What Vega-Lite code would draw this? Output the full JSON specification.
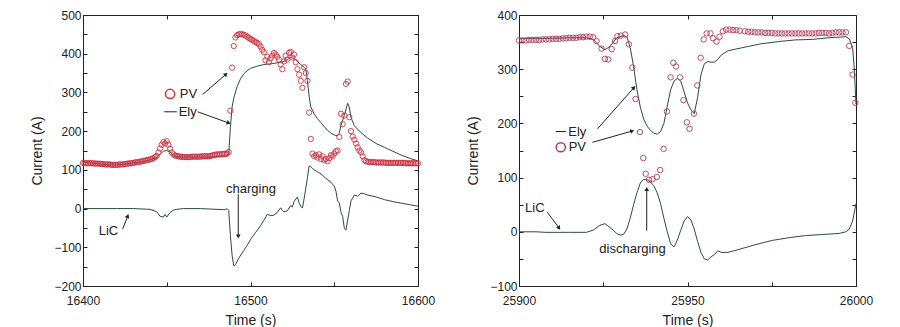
{
"$schema": "https://vega.github.io/schema/vega-lite/v6.json",
"background": "white",
"padding": {"left": 30, "top": 8, "right": 5, "bottom": 5},
"spacing": 101,
"bounds": "flush",
"config": {
  "view": {"stroke": "#222", "strokeWidth": 1},
  "axis": {"labelFont": "Liberation Sans", "labelFontSize": 12, "labelColor": "#222", "titleFont": "Liberation Sans", "titleFontSize": 14, "titleFontWeight": "normal", "titleColor": "#222", "tickColor": "#222", "tickSize": -4, "domain": false, "grid": false, "labelFlush": false, "labelPadding": 6, "labelOverlap": false},
  "axisX": {"labelPadding": 13}
},
"datasets": {
  "pv1": [
{"t":16400,"v":118},{"t":16401,"v":118},{"t":16402,"v":117},{"t":16403,"v":117},{"t":16404,"v":118},{"t":16405,"v":117},{"t":16406,"v":117},{"t":16407,"v":116},{"t":16408,"v":116},{"t":16409,"v":116},{"t":16410,"v":116},{"t":16411,"v":115},{"t":16412,"v":115},{"t":16413,"v":114},{"t":16414,"v":114},{"t":16415,"v":114},{"t":16416,"v":114},{"t":16417,"v":113},{"t":16418,"v":113},{"t":16419,"v":113},{"t":16420,"v":113},{"t":16421,"v":113},{"t":16422,"v":114},{"t":16423,"v":114},{"t":16424,"v":114},{"t":16425,"v":115},{"t":16426,"v":116},{"t":16427,"v":116},{"t":16428,"v":117},{"t":16429,"v":117},{"t":16430,"v":118},{"t":16431,"v":119},{"t":16432,"v":120},{"t":16433,"v":120},{"t":16434,"v":121},{"t":16435,"v":122},{"t":16436,"v":123},{"t":16437,"v":124},{"t":16438,"v":125},{"t":16439,"v":126},{"t":16440,"v":127},{"t":16441,"v":128},{"t":16442,"v":130},{"t":16443,"v":133},{"t":16444,"v":136},{"t":16445,"v":145},{"t":16446,"v":155},{"t":16447,"v":165},{"t":16448,"v":172},{"t":16449,"v":168},{"t":16450,"v":174},{"t":16451,"v":165},{"t":16452,"v":155},{"t":16453,"v":145},{"t":16454,"v":140},{"t":16455,"v":137},{"t":16456,"v":136},{"t":16457,"v":135},{"t":16458,"v":134},{"t":16459,"v":134},{"t":16460,"v":133},{"t":16461,"v":133},{"t":16462,"v":133},{"t":16463,"v":133},{"t":16464,"v":133},{"t":16465,"v":134},{"t":16466,"v":134},{"t":16467,"v":134},{"t":16468,"v":134},{"t":16469,"v":134},{"t":16470,"v":134},{"t":16471,"v":135},{"t":16472,"v":135},{"t":16473,"v":135},{"t":16474,"v":135},{"t":16475,"v":135},{"t":16476,"v":136},{"t":16477,"v":137},{"t":16478,"v":138},{"t":16479,"v":139},{"t":16480,"v":140},{"t":16481,"v":140},{"t":16482,"v":140},{"t":16483,"v":141},{"t":16484,"v":141},{"t":16485,"v":142},{"t":16486,"v":142},{"t":16487,"v":146},{"t":16488,"v":253},{"t":16489,"v":364},{"t":16490,"v":420},{"t":16491,"v":442},{"t":16492,"v":448},{"t":16493,"v":450},{"t":16494,"v":451},{"t":16495,"v":450},{"t":16496,"v":449},{"t":16497,"v":447},{"t":16498,"v":444},{"t":16499,"v":441},{"t":16500,"v":438},{"t":16501,"v":436},{"t":16502,"v":433},{"t":16503,"v":430},{"t":16504,"v":428},{"t":16505,"v":425},{"t":16506,"v":418},{"t":16507,"v":410},{"t":16508,"v":404},{"t":16509,"v":383},{"t":16510,"v":392},{"t":16511,"v":378},{"t":16512,"v":388},{"t":16513,"v":395},{"t":16514,"v":402},{"t":16515,"v":398},{"t":16516,"v":392},{"t":16517,"v":385},{"t":16518,"v":372},{"t":16519,"v":360},{"t":16520,"v":380},{"t":16521,"v":395},{"t":16522,"v":385},{"t":16523,"v":402},{"t":16524,"v":405},{"t":16525,"v":390},{"t":16526,"v":398},{"t":16527,"v":378},{"t":16528,"v":360},{"t":16529,"v":346},{"t":16530,"v":330},{"t":16531,"v":312},{"t":16532,"v":365},{"t":16533,"v":350},{"t":16534,"v":330},{"t":16535,"v":248},{"t":16536,"v":180},{"t":16537,"v":142},{"t":16538,"v":135},{"t":16539,"v":138},{"t":16540,"v":132},{"t":16541,"v":140},{"t":16542,"v":128},{"t":16543,"v":135},{"t":16544,"v":125},{"t":16545,"v":128},{"t":16546,"v":122},{"t":16547,"v":130},{"t":16548,"v":138},{"t":16549,"v":135},{"t":16550,"v":142},{"t":16551,"v":148},{"t":16552,"v":150},{"t":16553,"v":185},{"t":16554,"v":245},{"t":16555,"v":218},{"t":16556,"v":240},{"t":16557,"v":322},{"t":16558,"v":328},{"t":16559,"v":236},{"t":16560,"v":200},{"t":16561,"v":186},{"t":16562,"v":178},{"t":16563,"v":168},{"t":16564,"v":158},{"t":16565,"v":150},{"t":16566,"v":145},{"t":16567,"v":135},{"t":16568,"v":125},{"t":16569,"v":122},{"t":16570,"v":121},{"t":16571,"v":120},{"t":16572,"v":120},{"t":16573,"v":120},{"t":16574,"v":120},{"t":16575,"v":119},{"t":16576,"v":119},{"t":16577,"v":119},{"t":16578,"v":119},{"t":16579,"v":119},{"t":16580,"v":119},{"t":16581,"v":118},{"t":16582,"v":118},{"t":16583,"v":118},{"t":16584,"v":118},{"t":16585,"v":118},{"t":16586,"v":118},{"t":16587,"v":118},{"t":16588,"v":118},{"t":16589,"v":118},{"t":16590,"v":118},{"t":16591,"v":118},{"t":16592,"v":118},{"t":16593,"v":117},{"t":16594,"v":117},{"t":16595,"v":117},{"t":16596,"v":117},{"t":16597,"v":117},{"t":16598,"v":117},{"t":16599,"v":117},{"t":16600,"v":117}
  ],
  "ely1": [
{"t":16400,"v":120},{"t":16405,"v":118},{"t":16410,"v":115},{"t":16415,"v":113},{"t":16420,"v":113},{"t":16425,"v":115},{"t":16430,"v":118},{"t":16435,"v":121},{"t":16440,"v":126},{"t":16444,"v":132},{"t":16446,"v":140},{"t":16448,"v":148},{"t":16450,"v":150},{"t":16452,"v":146},{"t":16454,"v":138},{"t":16456,"v":134},{"t":16460,"v":133},{"t":16470,"v":133},{"t":16480,"v":134},{"t":16486,"v":135},{"t":16487,"v":140},{"t":16488,"v":210},{"t":16489,"v":262},{"t":16490,"v":285},{"t":16492,"v":315},{"t":16494,"v":335},{"t":16496,"v":348},{"t":16498,"v":356},{"t":16500,"v":362},{"t":16504,"v":368},{"t":16508,"v":372},{"t":16514,"v":375},{"t":16518,"v":378},{"t":16520,"v":380},{"t":16522,"v":385},{"t":16524,"v":390},{"t":16526,"v":388},{"t":16528,"v":380},{"t":16530,"v":372},{"t":16532,"v":365},{"t":16533,"v":360},{"t":16534,"v":330},{"t":16535,"v":290},{"t":16536,"v":262},{"t":16538,"v":245},{"t":16540,"v":232},{"t":16542,"v":222},{"t":16544,"v":212},{"t":16546,"v":202},{"t":16548,"v":195},{"t":16550,"v":190},{"t":16552,"v":188},{"t":16553,"v":195},{"t":16554,"v":215},{"t":16556,"v":240},{"t":16558,"v":272},{"t":16559,"v":262},{"t":16560,"v":235},{"t":16562,"v":214},{"t":16565,"v":200},{"t":16570,"v":182},{"t":16575,"v":168},{"t":16580,"v":158},{"t":16585,"v":148},{"t":16590,"v":138},{"t":16595,"v":130},{"t":16600,"v":123}
  ],
  "lic1": [
{"t":16400,"v":0},{"t":16420,"v":0},{"t":16430,"v":0},{"t":16440,"v":-2},{"t":16444,"v":-8},{"t":16446,"v":-20},{"t":16448,"v":-22},{"t":16449,"v":-15},{"t":16450,"v":-22},{"t":16452,"v":-10},{"t":16454,"v":-4},{"t":16456,"v":-2},{"t":16460,"v":0},{"t":16470,"v":0},{"t":16480,"v":-2},{"t":16485,"v":-3},{"t":16486,"v":0},{"t":16487,"v":-5},{"t":16488,"v":-70},{"t":16489,"v":-120},{"t":16490,"v":-148},{"t":16491,"v":-145},{"t":16493,"v":-128},{"t":16496,"v":-108},{"t":16498,"v":-95},{"t":16500,"v":-80},{"t":16503,"v":-62},{"t":16506,"v":-44},{"t":16508,"v":-30},{"t":16510,"v":-15},{"t":16512,"v":-18},{"t":16514,"v":-17},{"t":16516,"v":-10},{"t":16518,"v":2},{"t":16519,"v":-5},{"t":16520,"v":-8},{"t":16522,"v":-6},{"t":16524,"v":8},{"t":16525,"v":4},{"t":16526,"v":18},{"t":16528,"v":30},{"t":16529,"v":15},{"t":16530,"v":5},{"t":16531,"v":2},{"t":16532,"v":25},{"t":16534,"v":80},{"t":16535,"v":110},{"t":16536,"v":108},{"t":16538,"v":100},{"t":16540,"v":95},{"t":16542,"v":90},{"t":16544,"v":82},{"t":16546,"v":75},{"t":16548,"v":68},{"t":16550,"v":58},{"t":16551,"v":45},{"t":16552,"v":20},{"t":16553,"v":15},{"t":16554,"v":-10},{"t":16555,"v":-20},{"t":16556,"v":-50},{"t":16557,"v":-55},{"t":16558,"v":-30},{"t":16559,"v":-5},{"t":16560,"v":20},{"t":16562,"v":35},{"t":16564,"v":32},{"t":16566,"v":40},{"t":16568,"v":38},{"t":16570,"v":35},{"t":16575,"v":30},{"t":16580,"v":23},{"t":16585,"v":18},{"t":16590,"v":14},{"t":16595,"v":10},{"t":16600,"v":6}
  ],
  "pv2": [
{"t":25900,"v":353},{"t":25901,"v":353},{"t":25902,"v":353},{"t":25903,"v":354},{"t":25904,"v":354},{"t":25905,"v":354},{"t":25906,"v":354},{"t":25907,"v":355},{"t":25908,"v":355},{"t":25909,"v":355},{"t":25910,"v":356},{"t":25911,"v":356},{"t":25912,"v":356},{"t":25913,"v":357},{"t":25914,"v":357},{"t":25915,"v":358},{"t":25916,"v":358},{"t":25917,"v":358},{"t":25918,"v":359},{"t":25919,"v":359},{"t":25920,"v":360},{"t":25921,"v":360},{"t":25922,"v":359},{"t":25923,"v":352},{"t":25924.5,"v":338},{"t":25925.5,"v":319},{"t":25926.5,"v":318},{"t":25927.5,"v":337},{"t":25928.5,"v":352},{"t":25929.2,"v":361},{"t":25930.2,"v":362},{"t":25931.5,"v":364},{"t":25932.6,"v":346},{"t":25933.6,"v":303},{"t":25934.6,"v":245},{"t":25935.9,"v":184},{"t":25936.9,"v":136},{"t":25937.6,"v":107},{"t":25938.6,"v":96},{"t":25939.6,"v":97},{"t":25940.9,"v":101},{"t":25941.9,"v":114},{"t":25942.9,"v":153},{"t":25943.9,"v":222},{"t":25945,"v":285},{"t":25945.8,"v":312},{"t":25946.6,"v":305},{"t":25947.8,"v":285},{"t":25948.8,"v":243},{"t":25949.8,"v":202},{"t":25950.6,"v":190},{"t":25951.9,"v":218},{"t":25952.9,"v":270},{"t":25953.9,"v":321},{"t":25954.8,"v":355},{"t":25955.7,"v":366},{"t":25956.8,"v":366},{"t":25957.6,"v":357},{"t":25958.6,"v":351},{"t":25959.5,"v":360},{"t":25960.5,"v":370},{"t":25961.5,"v":373},{"t":25962.5,"v":373},{"t":25963.5,"v":372},{"t":25964.5,"v":372},{"t":25965.5,"v":371},{"t":25967,"v":370},{"t":25968,"v":369},{"t":25969,"v":369},{"t":25970,"v":368},{"t":25971,"v":368},{"t":25972,"v":368},{"t":25973,"v":367},{"t":25974,"v":367},{"t":25975,"v":367},{"t":25976,"v":366},{"t":25977,"v":366},{"t":25978,"v":366},{"t":25979,"v":366},{"t":25980,"v":366},{"t":25981,"v":366},{"t":25982,"v":366},{"t":25983,"v":366},{"t":25984,"v":366},{"t":25985,"v":366},{"t":25986,"v":366},{"t":25987,"v":366},{"t":25988,"v":366},{"t":25989,"v":367},{"t":25990,"v":367},{"t":25991,"v":367},{"t":25992,"v":366},{"t":25993,"v":367},{"t":25994,"v":368},{"t":25995,"v":368},{"t":25996,"v":368},{"t":25997,"v":368},{"t":25998,"v":343},{"t":25999,"v":290},{"t":25999.8,"v":238}
  ],
  "ely2": [
{"t":25900,"v":357},{"t":25905,"v":357},{"t":25910,"v":357},{"t":25915,"v":358},{"t":25920,"v":358},{"t":25922,"v":355},{"t":25924,"v":342},{"t":25925.5,"v":336},{"t":25927,"v":342},{"t":25929,"v":358},{"t":25931,"v":362},{"t":25932,"v":360},{"t":25933,"v":340},{"t":25934,"v":305},{"t":25935,"v":262},{"t":25936,"v":230},{"t":25937,"v":208},{"t":25938,"v":195},{"t":25939,"v":187},{"t":25940,"v":182},{"t":25941,"v":180},{"t":25942,"v":185},{"t":25943,"v":200},{"t":25944,"v":232},{"t":25945,"v":262},{"t":25946,"v":278},{"t":25947,"v":283},{"t":25948,"v":278},{"t":25949,"v":258},{"t":25950,"v":238},{"t":25951,"v":225},{"t":25952,"v":218},{"t":25953,"v":248},{"t":25954,"v":290},{"t":25955,"v":310},{"t":25956,"v":314},{"t":25957,"v":313},{"t":25958,"v":313},{"t":25959,"v":318},{"t":25960,"v":326},{"t":25962,"v":334},{"t":25965,"v":338},{"t":25968,"v":342},{"t":25972,"v":347},{"t":25977,"v":351},{"t":25982,"v":354},{"t":25987,"v":355},{"t":25992,"v":358},{"t":25997,"v":360},{"t":25998,"v":356},{"t":25999,"v":340},{"t":25999.5,"v":300},{"t":26000,"v":235}
  ],
  "lic2": [
{"t":25900,"v":0},{"t":25905,"v":0},{"t":25908,"v":-1},{"t":25915,"v":-1},{"t":25920,"v":-1},{"t":25922,"v":3},{"t":25924,"v":12},{"t":25925.5,"v":15},{"t":25927,"v":8},{"t":25929,"v":-3},{"t":25930,"v":-6},{"t":25931,"v":-5},{"t":25932,"v":5},{"t":25933,"v":25},{"t":25934,"v":50},{"t":25935,"v":72},{"t":25936,"v":90},{"t":25937,"v":97},{"t":25938,"v":96},{"t":25939,"v":92},{"t":25940,"v":85},{"t":25941,"v":72},{"t":25942,"v":52},{"t":25943,"v":25},{"t":25944,"v":0},{"t":25945,"v":-22},{"t":25946,"v":-28},{"t":25947,"v":-15},{"t":25948,"v":3},{"t":25949,"v":20},{"t":25950,"v":28},{"t":25951,"v":22},{"t":25952,"v":5},{"t":25953,"v":-18},{"t":25954,"v":-38},{"t":25955,"v":-50},{"t":25956,"v":-52},{"t":25957,"v":-46},{"t":25958,"v":-42},{"t":25959,"v":-35},{"t":25960,"v":-38},{"t":25962,"v":-38},{"t":25965,"v":-33},{"t":25970,"v":-24},{"t":25975,"v":-16},{"t":25980,"v":-11},{"t":25985,"v":-7},{"t":25990,"v":-5},{"t":25995,"v":-3},{"t":25997,"v":0},{"t":25998,"v":5},{"t":25999,"v":20},{"t":26000,"v":52}
  ],
  "txt1": [{"t":16463,"v":295,"label":"PV"},{"t":16462.5,"v":250,"label":"Ely"},{"t":16500.3,"v":50,"label":"charging"},{"t":16415.2,"v":-57,"label":"LiC"}],
  "arr1": [{"t":16471.5,"v":295,"t2":16485.4,"v2":347},{"t":16468.5,"v":250,"t2":16487,"v2":221},{"t":16492.7,"v":37,"t2":16492.7,"v2":-72},{"t":16423.7,"v":-53,"t2":16426.7,"v2":-19}],
  "txt2": [{"t":25917.3,"v":184,"label":"Ely"},{"t":25917.3,"v":156,"label":"PV"},{"t":25933.7,"v":-31,"label":"discharging"},{"t":25904.7,"v":44,"label":"LiC"}],
  "arr2": [{"t":25923.3,"v":190,"t2":25934.1,"v2":266},{"t":25921.8,"v":165,"t2":25933.6,"v2":186},{"t":25937.9,"v":2,"t2":25937.9,"v2":79},{"t":25908.4,"v":36,"t2":25911.9,"v2":7}]
},
"hconcat": [
  {
    "width": 335, "height": 271,
    "layer": [
      {"data": {"name": "ely1"}, "mark": {"type": "line", "color": "#2e4a3e", "strokeWidth": 1},
       "encoding": {
         "x": {"field": "t", "type": "quantitative", "scale": {"domain": [16400, 16600], "nice": false, "zero": false}, "title": "Time (s)",
               "axis": {"orient": "bottom", "values": [16400,16450,16500,16550,16600], "labelExpr": "datum.value % 100 == 0 ? format(datum.value, 'd') : ''", "titlePadding": 7}},
         "y": {"field": "v", "type": "quantitative", "scale": {"domain": [-200, 500], "nice": false, "zero": false}, "title": "Current (A)",
               "axis": {"orient": "left", "values": [-200,-150,-100,-50,0,50,100,150,200,250,300,350,400,450,500], "labelExpr": "datum.value % 100 == 0 ? datum.label : ''", "titlePadding": 9}}
       }},
      {"data": {"name": "lic1"}, "mark": {"type": "line", "color": "#2e4a3e", "strokeWidth": 1},
       "encoding": {
         "x": {"field": "t", "type": "quantitative", "axis": {"orient": "top", "values": [16400,16450,16500,16550,16600], "labels": false, "title": null}},
         "y": {"field": "v", "type": "quantitative", "axis": {"orient": "right", "values": [-200,-150,-100,-50,0,50,100,150,200,250,300,350,400,450,500], "labels": false, "title": null}}
       }},
      {"data": {"name": "pv1"}, "mark": {"type": "point", "shape": "circle", "filled": false, "size": 28, "stroke": "#cc3344", "strokeWidth": 1, "opacity": 0.9},
       "encoding": {"x": {"field": "t", "type": "quantitative", "axis": null}, "y": {"field": "v", "type": "quantitative", "axis": null}}},
      {"data": {"name": "arr1"}, "mark": {"type": "rule", "color": "#222", "strokeWidth": 1},
       "encoding": {"x": {"field": "t", "type": "quantitative", "axis": null}, "y": {"field": "v", "type": "quantitative", "axis": null}, "x2": {"field": "t2"}, "y2": {"field": "v2"}}},
      {"data": {"values": [{"t": 16485.4, "v": 347}]}, "mark": {"type": "point", "shape": "triangle-up", "filled": true, "size": 22, "color": "#222", "opacity": 1, "angle": 49},
       "encoding": {"x": {"field": "t", "type": "quantitative", "axis": null}, "y": {"field": "v", "type": "quantitative", "axis": null}}},
      {"data": {"values": [{"t": 16487, "v": 221}]}, "mark": {"type": "point", "shape": "triangle-up", "filled": true, "size": 22, "color": "#222", "opacity": 1, "angle": 110},
       "encoding": {"x": {"field": "t", "type": "quantitative", "axis": null}, "y": {"field": "v", "type": "quantitative", "axis": null}}},
      {"data": {"values": [{"t": 16492.7, "v": -72}]}, "mark": {"type": "point", "shape": "triangle-up", "filled": true, "size": 22, "color": "#222", "opacity": 1, "angle": 180},
       "encoding": {"x": {"field": "t", "type": "quantitative", "axis": null}, "y": {"field": "v", "type": "quantitative", "axis": null}}},
      {"data": {"values": [{"t": 16426.7, "v": -19}]}, "mark": {"type": "point", "shape": "triangle-up", "filled": true, "size": 22, "color": "#222", "opacity": 1, "angle": 21},
       "encoding": {"x": {"field": "t", "type": "quantitative", "axis": null}, "y": {"field": "v", "type": "quantitative", "axis": null}}},
      {"data": {"values": [{"t": 16452, "v": 296}]}, "mark": {"type": "point", "shape": "circle", "filled": false, "size": 85, "stroke": "#cc3344", "strokeWidth": 1.5, "opacity": 1},
       "encoding": {"x": {"field": "t", "type": "quantitative", "axis": null}, "y": {"field": "v", "type": "quantitative", "axis": null}}},
      {"data": {"values": [{"t": 16448.5, "v": 250, "t2": 16456}]}, "mark": {"type": "rule", "color": "#222", "strokeWidth": 1},
       "encoding": {"x": {"field": "t", "type": "quantitative", "axis": null}, "y": {"field": "v", "type": "quantitative", "axis": null}, "x2": {"field": "t2"}}},
      {"data": {"name": "txt1"}, "mark": {"type": "text", "font": "Liberation Sans", "fontSize": 13, "color": "#222", "align": "center", "baseline": "middle"},
       "encoding": {"x": {"field": "t", "type": "quantitative", "axis": null}, "y": {"field": "v", "type": "quantitative", "axis": null}, "text": {"field": "label"}}}
    ]
  },
  {
    "width": 337, "height": 271,
    "layer": [
      {"data": {"name": "ely2"}, "mark": {"type": "line", "color": "#2e4a3e", "strokeWidth": 1},
       "encoding": {
         "x": {"field": "t", "type": "quantitative", "scale": {"domain": [25900, 26000], "nice": false, "zero": false}, "title": "Time (s)",
               "axis": {"orient": "bottom", "values": [25900,25925,25950,25975,26000], "labelExpr": "datum.value % 50 == 0 ? format(datum.value, 'd') : ''", "titlePadding": 7}},
         "y": {"field": "v", "type": "quantitative", "scale": {"domain": [-100, 400], "nice": false, "zero": false}, "title": "Current (A)",
               "axis": {"orient": "left", "values": [-100,-50,0,50,100,150,200,250,300,350,400], "labelExpr": "datum.value % 100 == 0 ? datum.label : ''", "titlePadding": 9}}
       }},
      {"data": {"name": "lic2"}, "mark": {"type": "line", "color": "#2e4a3e", "strokeWidth": 1},
       "encoding": {
         "x": {"field": "t", "type": "quantitative", "axis": {"orient": "top", "values": [25900,25925,25950,25975,26000], "labels": false, "title": null}},
         "y": {"field": "v", "type": "quantitative", "axis": {"orient": "right", "values": [-100,-50,0,50,100,150,200,250,300,350,400], "labels": false, "title": null}}
       }},
      {"data": {"name": "pv2"}, "mark": {"type": "point", "shape": "circle", "filled": false, "size": 30, "stroke": "#b03a5a", "strokeWidth": 1, "opacity": 0.9},
       "encoding": {"x": {"field": "t", "type": "quantitative", "axis": null}, "y": {"field": "v", "type": "quantitative", "axis": null}}},
      {"data": {"name": "arr2"}, "mark": {"type": "rule", "color": "#222", "strokeWidth": 1},
       "encoding": {"x": {"field": "t", "type": "quantitative", "axis": null}, "y": {"field": "v", "type": "quantitative", "axis": null}, "x2": {"field": "t2"}, "y2": {"field": "v2"}}},
      {"data": {"values": [{"t": 25934.1, "v": 266}]}, "mark": {"type": "point", "shape": "triangle-up", "filled": true, "size": 22, "color": "#222", "opacity": 1, "angle": 41},
       "encoding": {"x": {"field": "t", "type": "quantitative", "axis": null}, "y": {"field": "v", "type": "quantitative", "axis": null}}},
      {"data": {"values": [{"t": 25933.6, "v": 186}]}, "mark": {"type": "point", "shape": "triangle-up", "filled": true, "size": 22, "color": "#222", "opacity": 1, "angle": 74},
       "encoding": {"x": {"field": "t", "type": "quantitative", "axis": null}, "y": {"field": "v", "type": "quantitative", "axis": null}}},
      {"data": {"values": [{"t": 25937.9, "v": 79}]}, "mark": {"type": "point", "shape": "triangle-up", "filled": true, "size": 22, "color": "#222", "opacity": 1, "angle": 0},
       "encoding": {"x": {"field": "t", "type": "quantitative", "axis": null}, "y": {"field": "v", "type": "quantitative", "axis": null}}},
      {"data": {"values": [{"t": 25911.9, "v": 7}]}, "mark": {"type": "point", "shape": "triangle-up", "filled": true, "size": 22, "color": "#222", "opacity": 1, "angle": 144},
       "encoding": {"x": {"field": "t", "type": "quantitative", "axis": null}, "y": {"field": "v", "type": "quantitative", "axis": null}}},
      {"data": {"values": [{"t": 25912.4, "v": 156}]}, "mark": {"type": "point", "shape": "circle", "filled": false, "size": 85, "stroke": "#b03a5a", "strokeWidth": 1.5, "opacity": 1},
       "encoding": {"x": {"field": "t", "type": "quantitative", "axis": null}, "y": {"field": "v", "type": "quantitative", "axis": null}}},
      {"data": {"values": [{"t": 25910.9, "v": 185, "t2": 25913.9}]}, "mark": {"type": "rule", "color": "#222", "strokeWidth": 1},
       "encoding": {"x": {"field": "t", "type": "quantitative", "axis": null}, "y": {"field": "v", "type": "quantitative", "axis": null}, "x2": {"field": "t2"}}},
      {"data": {"name": "txt2"}, "mark": {"type": "text", "font": "Liberation Sans", "fontSize": 13, "color": "#222", "align": "center", "baseline": "middle"},
       "encoding": {"x": {"field": "t", "type": "quantitative", "axis": null}, "y": {"field": "v", "type": "quantitative", "axis": null}, "text": {"field": "label"}}}
    ]
  }
]
}
